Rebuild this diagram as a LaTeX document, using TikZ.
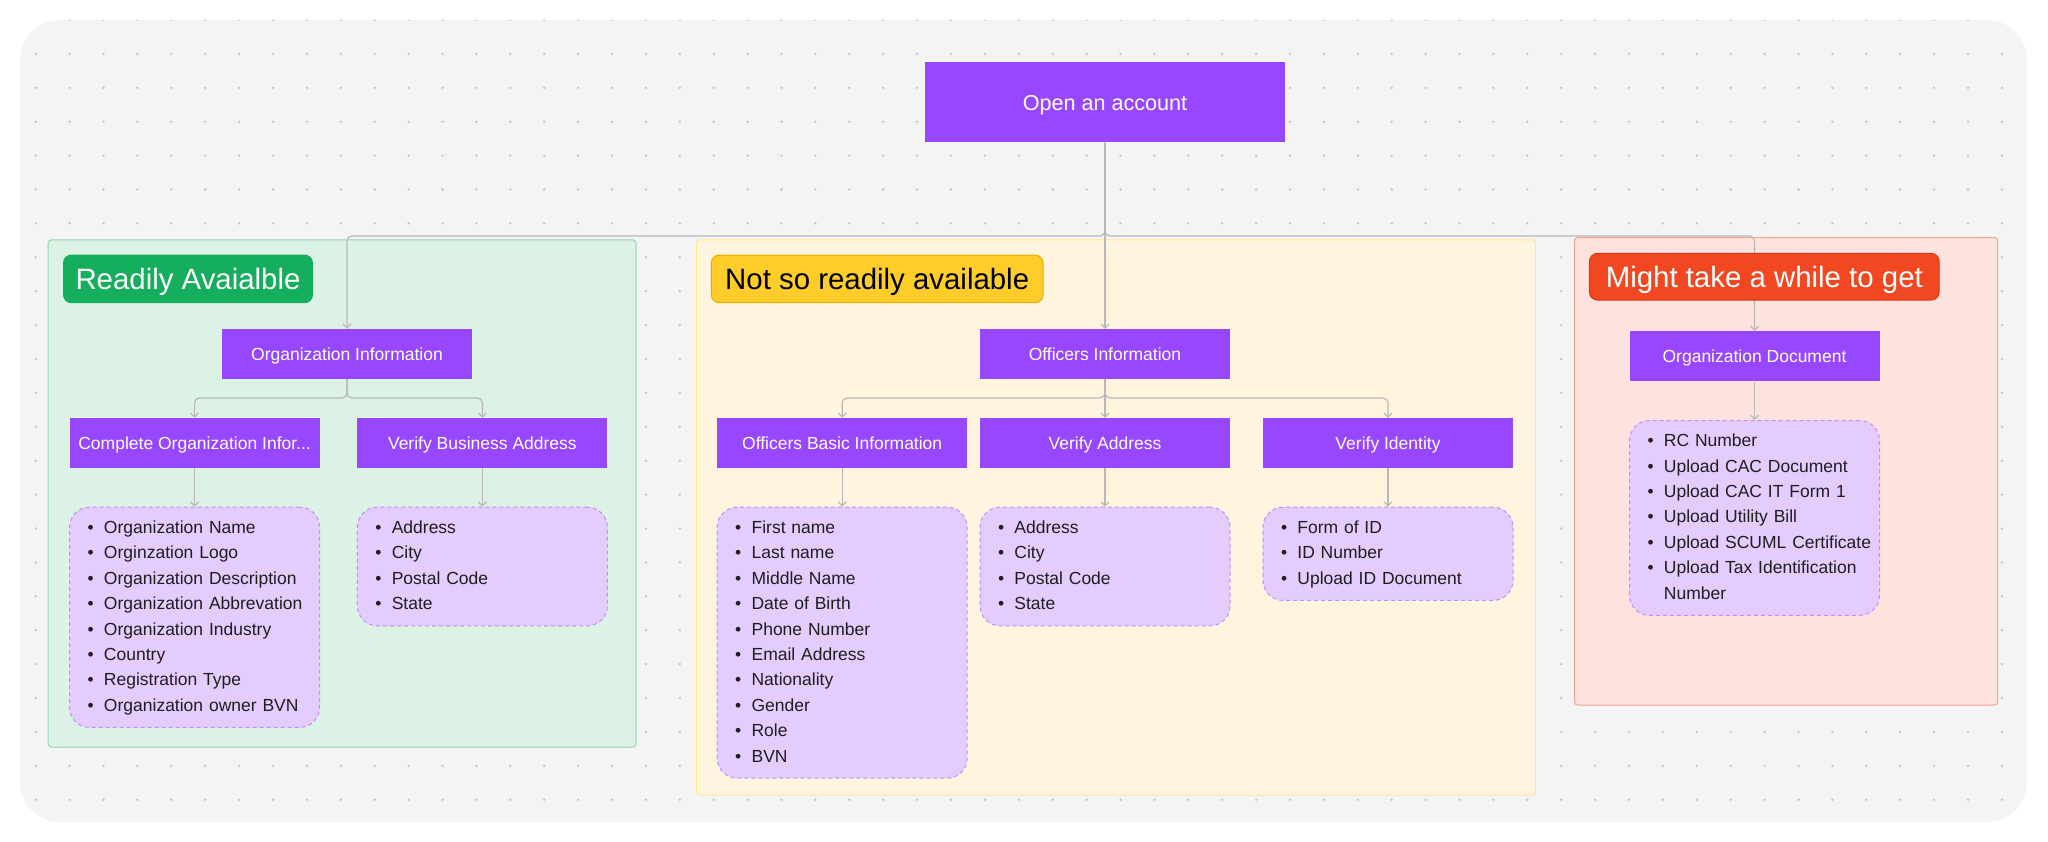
\documentclass[tikz,border=0pt]{standalone}
\usepackage{fontspec}
\setmainfont{Liberation Sans}
\usetikzlibrary{arrows.meta}

\definecolor{canvas}{HTML}{F4F4F4}
\definecolor{griddot}{HTML}{C4C4C4}
\definecolor{figpurple}{HTML}{9747FF}
\definecolor{listfill}{HTML}{E4CCFF}
\definecolor{listline}{HTML}{C28CFF}
\definecolor{listtext}{HTML}{1E1E1E}
\definecolor{linkgray}{HTML}{B8B8B8}
\definecolor{greenfill}{HTML}{DCF2E5}
\definecolor{greenline}{HTML}{93D7AE}
\definecolor{greenhdr}{HTML}{14AE5C}
\definecolor{yellowfill}{HTML}{FFF5DF}
\definecolor{yellowline}{HTML}{FFE58F}
\definecolor{yellowhdr}{HTML}{FFCD29}
\definecolor{yellowhdrline}{HTML}{E5AC00}
\definecolor{redfill}{HTML}{FDE2DE}
\definecolor{redline}{HTML}{F3A296}
\definecolor{redhdr}{HTML}{F24822}
\definecolor{redhdrline}{HTML}{D23A16}

% one bullet line of a list box (kept on one line)
\newcommand{\itm}[1]{\mbox{\strut\makebox[16.4pt][l]{\textbullet}#1}}

\begin{document}
\begin{tikzpicture}[x=1pt,y=-1pt,
    purplebox/.style={fill=figpurple, text=white, minimum width=250pt, minimum height=50pt,
        inner sep=0pt, text height=12.5pt, text depth=0pt, font=\fontsize{17.5}{21}\selectfont},
    itemlist/.style={fill=listfill, draw=listline, line width=1pt, dash pattern=on 4pt off 3pt,
        rounded corners=20pt, anchor=north, text width=214pt, inner xsep=18pt, inner ysep=0pt,
        align=left, text=listtext, minimum height={25.4pt*#1+17pt},
        font=\fontsize{17.5}{25.4}\selectfont},
    groupbox/.style={line width=1pt, rounded corners=3pt},
    tag/.style={rounded corners=8pt, line width=1pt, inner sep=0pt, minimum height=47.7pt,
        text height=21pt, text depth=0pt, font=\fontsize{29.4}{34}\selectfont},
    link/.style={draw=linkgray, line width=1.2pt, rounded corners=5pt,
        -{Straight Barb[length=4pt,width=8pt]}},
]
    \def\gap{33.9} % spacing of the dot grid
    \def\busy{236} % height of the top connector line
    \def\forky{398} % height of the second connector lines

\useasboundingbox (0,0) rectangle (2048,842);

% canvas with dot grid
\fill[canvas, rounded corners=40pt] (20,20) rectangle (2027,822);
\begin{scope}
    \clip[rounded corners=40pt] (20,20) rectangle (2027,822);
    \foreach \i in {0,...,58} {
        \foreach \j in {0,...,23} {
            \fill[griddot] (35.7+\gap*\i, 20+\gap*\j) circle (1.3pt);
        }
    }
\end{scope}

% the three groups
\draw[groupbox, draw=greenline, fill=greenfill] (48.2,240) rectangle (636,747);
\draw[groupbox, draw=yellowline, fill=yellowfill] (696.5,240) rectangle (1535.5,795);
\draw[groupbox, draw=redline, fill=redfill] (1574.6,237.7) rectangle (1997.6,705);

% purple steps
\node[purplebox, minimum width=360pt, minimum height=80pt, text height=15.5pt,
    font=\fontsize{21.6}{26}\selectfont] (open) at (1105,102.5) {Open an account};

\node[purplebox] (orginfo) at (347,354) {Organization Information};
\node[purplebox] (offinfo) at (1105,354) {Officers Information};
\node[purplebox] (orgdoc) at (1754.5,356.3) {Organization Document};

\node[purplebox] (complete) at (194.6,443) {Complete Organization Infor...};
\node[purplebox] (bizaddr) at (482.4,443) {Verify Business Address};
\node[purplebox] (offbasic) at (842.2,443) {Officers Basic Information};
\node[purplebox] (veraddr) at (1105,443) {Verify Address};
\node[purplebox] (verid) at (1388,443) {Verify Identity};

% lists under the steps
\node[itemlist=8] (orglist) at (194.6,506.7) {\itm{Organization Name}\\ \itm{Orginzation Logo}\\
    \itm{Organization Description}\\ \itm{Organization Abbrevation}\\ \itm{Organization Industry}\\
    \itm{Country}\\ \itm{Registration Type}\\ \itm{Organization owner BVN}};
\node[itemlist=4] (bizlist) at (482.4,506.7) {\itm{Address}\\ \itm{City}\\ \itm{Postal Code}\\ \itm{State}};
\node[itemlist=10] (offlist) at (842.2,506.7) {\itm{First name}\\ \itm{Last name}\\ \itm{Middle Name}\\
    \itm{Date of Birth}\\ \itm{Phone Number}\\ \itm{Email Address}\\ \itm{Nationality}\\
    \itm{Gender}\\ \itm{Role}\\ \itm{BVN}};
\node[itemlist=4] (addrlist) at (1105,506.7) {\itm{Address}\\ \itm{City}\\ \itm{Postal Code}\\ \itm{State}};
\node[itemlist=3] (idlist) at (1388,506.7) {\itm{Form of ID}\\ \itm{ID Number}\\ \itm{Upload ID Document}};
\node[itemlist=7] (doclist) at (1754.5,420) {\itm{RC Number}\\ \itm{Upload CAC Document}\\
    \itm{Upload CAC IT Form 1}\\ \itm{Upload Utility Bill}\\ \itm{Upload SCUML Certificate}\\
    \itm{Upload Tax Identification}\\ \mbox{\strut\hspace*{16.4pt}Number}};

% connectors
\coordinate (bus) at (1105,\busy);
\coordinate (orgfork) at (347,\forky);
\coordinate (offfork) at (1105,\forky);

\draw[link] (open.south) -- (bus) -| (orginfo.north);
\draw[link] (open.south) -- (offinfo.north);
\draw[link] (open.south) -- (bus) -| (orgdoc.north);

\draw[link] (orginfo.south) -- (orgfork) -| (complete.north);
\draw[link] (orginfo.south) -- (orgfork) -| (bizaddr.north);
\draw[link] (offinfo.south) -- (offfork) -| (offbasic.north);
\draw[link] (offinfo.south) -- (veraddr.north);
\draw[link] (offinfo.south) -- (offfork) -| (verid.north);

\draw[link] (complete.south) -- (orglist.north);
\draw[link] (bizaddr.south) -- (bizlist.north);
\draw[link] (offbasic.south) -- (offlist.north);
\draw[link] (veraddr.south) -- (addrlist.north);
\draw[link] (verid.south) -- (idlist.north);
\draw[link] (orgdoc.south) -- (doclist.north);

% group labels (drawn last, they cover the line to orgdoc)
\node[tag, fill=greenhdr, draw=greenhdr, text=white, minimum width=249pt]
    (readytag) at (188,278.9) {Readily Avaialble};
\node[tag, fill=yellowhdr, draw=yellowhdrline, text=black, minimum width=331.7pt]
    (slowtag) at (877.2,278.9) {Not so readily available};
\node[tag, fill=redhdr, draw=redhdrline, text=white, minimum width=349.7pt, minimum height=46.7pt]
    (latetag) at (1764.3,276.7) {Might take a while to get};

\end{tikzpicture}
\end{document}
